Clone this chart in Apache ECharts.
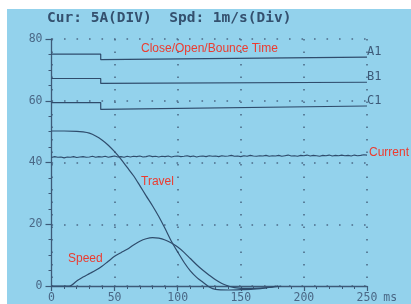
<!DOCTYPE html>
<html>
<head>
<meta charset="utf-8">
<script src="https://cdn.jsdelivr.net/npm/echarts@6/dist/echarts.min.js"></script>
<style>
html,body{margin:0;padding:0;background:#fff;}
#c{width:411px;height:304px;}
</style>
</head>
<body>
<div id="c"></div>
<script>
// ---- data ----
const xTicks = [0, 50, 100, 150, 200, 250];
const yTicks = [0, 20, 40, 60, 80];
const headerText = 'Cur: 5A(DIV)  Spd: 1m/s(Div)';

const a1Points = [[0, 75.1], [39, 75.1], [39, 73.3], [250, 74.1]];
const b1Points = [[0, 67.2], [39, 67.2], [39, 65.6], [250, 66.0]];
const c1Points = [[0, 59.4], [39, 59.4], [39, 57.2], [250, 58.3]];

const currentStep = 2.5; // ms between samples
const currentValues = [
  41.6, 41.9, 41.7, 41.8, 41.5, 41.8, 41.7, 41.9, 41.6, 41.8,
  41.9, 41.7, 41.8, 42.0, 41.7, 41.9, 41.8, 42.0, 41.7, 41.9,
  42.1, 41.8, 41.9, 41.7, 42.0, 41.8, 42.0, 41.9, 42.1, 41.8,
  41.9, 42.2, 41.9, 42.0, 41.8, 42.0, 41.9, 42.1, 41.8, 42.0,
  42.1, 41.9, 42.0, 42.2, 41.9, 42.1, 41.8, 42.0, 42.1, 41.9,
  42.2, 42.0, 42.1, 41.9, 42.2, 42.0, 42.1, 42.3, 42.0, 42.1,
  41.9, 42.2, 42.0, 42.3, 42.1, 42.0, 42.2, 42.1, 42.3, 42.0,
  42.2, 42.1, 42.3, 42.0, 42.2, 42.4, 42.1, 42.2, 42.0, 42.3,
  42.2, 42.4, 42.1, 42.3, 42.2, 42.0, 42.3, 42.2, 42.4, 42.1,
  42.3, 42.2, 42.4, 42.2, 42.3, 42.1, 42.4, 42.2, 42.3, 42.5,
  42.4
];

const travelTimes = [0, 10, 20, 25, 30, 35, 40, 45, 50, 55, 60, 65, 70, 75, 80, 85, 90, 95, 100, 105, 110, 115, 120, 125, 130, 140, 150, 160, 170, 178];
const travelValues = [50.2, 50.2, 50.1, 49.9, 49.5, 48.6, 47.3, 45.6, 43.5, 41.1, 38.4, 35.7, 32.5, 29.2, 26.0, 22.5, 18.6, 14.5, 11.0, 7.7, 4.9, 2.8, 1.2, -0.3, -1.1, -1.3, -1.2, -1.0, -0.6, 0];

const speedTimes = [0, 14, 20, 25, 30, 35, 40, 45, 50, 55, 60, 65, 70, 75, 80, 85, 90, 95, 100, 105, 110, 115, 120, 125, 130, 135, 140, 145, 155, 165, 175, 182];
const speedValues = [0, 0, 1.6, 2.9, 4.0, 5.1, 6.4, 8.0, 9.6, 10.8, 11.9, 13.3, 14.5, 15.3, 15.7, 15.5, 14.9, 13.9, 12.6, 10.9, 8.9, 6.9, 5.1, 3.5, 2.0, 0.8, 0.0, -0.5, -0.8, -0.7, -0.4, 0];

// ---- styles ----
const BG = '#93d2ec';
const LINE = '#2f4c6c';
const AXIS = '#3d5a78';
const LABEL = '#4a6886';
const RED = '#ec3b2f';
const MONO = '"DejaVu Sans Mono", "Liberation Mono", monospace';
const SANS = '"Liberation Sans", Arial, sans-serif';

const zip = (xs, ys) => xs.map((x, i) => [x, ys[i]]);
const currentData = currentValues.map((v, i) => [i * currentStep, v]);

const lineSeries = (name, data, extra) => Object.assign({
  name, type: 'line', data, showSymbol: false, symbol: 'none', clip: false,
  lineStyle: { color: LINE, width: 1.2 }, z: 3
}, extra || {});

const stepLabel = {
  show: true, formatter: '{a}', color: AXIS, fontFamily: MONO,
  fontSize: 12, distance: 0, offset: [0, -5]
};

const chart = echarts.init(document.getElementById('c'), null, { renderer: 'canvas' });
chart.setOption({
  animation: false,
  backgroundColor: BG,
  title: {
    text: headerText, left: 47, top: 11, padding: 0,
    textStyle: { fontFamily: MONO, fontSize: 14.5, fontWeight: 'bold', color: '#34506e' }
  },
  grid: { left: 51.5, right: 44, top: 39, bottom: 15.5 },
  xAxis: {
    type: 'value', min: 0, max: 250, interval: 50,
    name: 'ms', nameLocation: 'end', nameGap: 16,
    nameTextStyle: { fontFamily: MONO, fontSize: 11.5, color: LABEL, verticalAlign: 'top', padding: [6, 0, 0, 0] },
    axisLine: { show: true, lineStyle: { color: AXIS, width: 1.3 } },
    axisTick: { show: true, inside: false, length: 5, lineStyle: { color: AXIS, width: 1.2 } },
    minorTick: { show: true, splitNumber: 5, length: 3, lineStyle: { color: AXIS, width: 1 } },
    axisLabel: { fontFamily: MONO, fontSize: 11.5, color: LABEL, margin: 6,
      formatter: v => xTicks.includes(v) ? String(v) : '' },
    splitLine: { show: true, lineStyle: { color: '#4d6b88', width: 1.6, type: [1.6, 10.9] } }
  },
  yAxis: {
    type: 'value', min: 0, max: 80, interval: 20,
    axisLine: { show: true, lineStyle: { color: AXIS, width: 1.3 } },
    axisTick: { show: true, inside: false, length: 6, lineStyle: { color: AXIS, width: 1.2 } },
    minorTick: { show: true, splitNumber: 4, length: 3, lineStyle: { color: AXIS, width: 1 } },
    axisLabel: { fontFamily: MONO, fontSize: 11.5, color: LABEL, margin: 9,
      formatter: v => yTicks.includes(v) ? String(v) : '' },
    splitLine: { show: true, lineStyle: { color: '#4d6b88', width: 1.6, type: [1.6, 10.9] } }
  },
  graphic: [
    { type: 'rect', left: 0, top: 0, shape: { width: 411, height: 9 }, style: { fill: '#fff' }, z: 100, silent: true },
    { type: 'rect', left: 0, top: 0, shape: { width: 7, height: 304 }, style: { fill: '#fff' }, z: 100, silent: true },
    { type: 'text', left: 141, top: 43, style: { text: 'Close/Open/Bounce Time', fill: RED, font: '12px ' + SANS }, z: 10 },
    { type: 'text', left: 141, top: 176, style: { text: 'Travel', fill: RED, font: '12px ' + SANS }, z: 10 },
    { type: 'text', left: 68, top: 253, style: { text: 'Speed', fill: RED, font: '12px ' + SANS }, z: 10 }
  ],
  series: [
    lineSeries('A1', a1Points, { endLabel: stepLabel }),
    lineSeries('B1', b1Points, { endLabel: stepLabel }),
    lineSeries('C1', c1Points, { endLabel: stepLabel }),
    lineSeries('Current', currentData, {
      lineStyle: { color: LINE, width: 1.1 },
      endLabel: { show: true, formatter: 'Current', color: RED, fontFamily: SANS, fontSize: 12, distance: 2, offset: [0, -2] }
    }),
    lineSeries('Travel', zip(travelTimes, travelValues), { smooth: 0.3 }),
    lineSeries('Speed', zip(speedTimes, speedValues), { smooth: 0.3 })
  ]
});
</script>
</body>
</html>
